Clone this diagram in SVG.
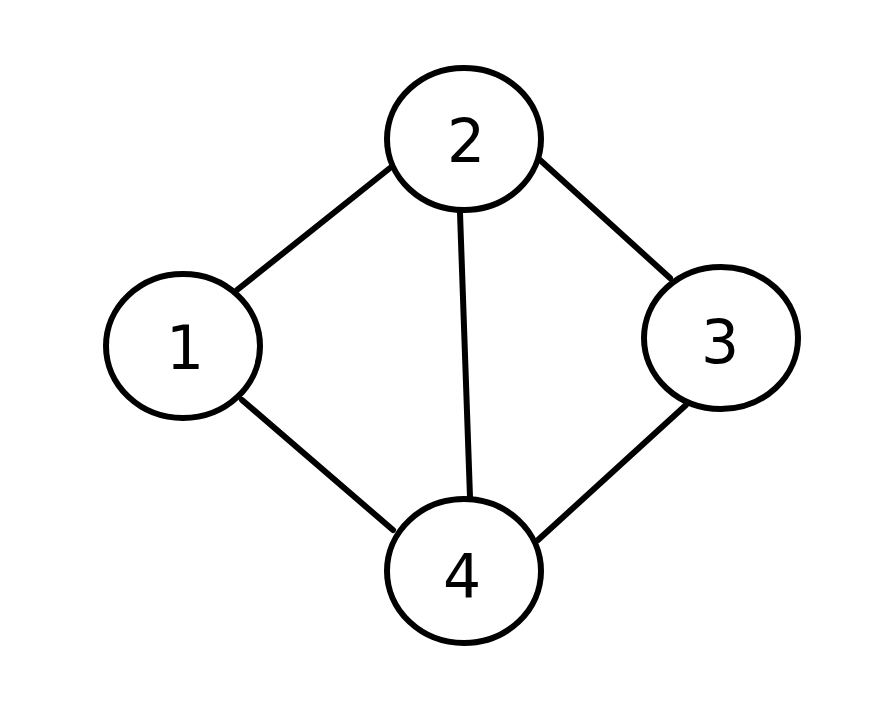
<svg xmlns="http://www.w3.org/2000/svg" width="886" height="717" viewBox="0 0 886 717">
<style>
.n{fill:#fff;stroke:#000;stroke-width:6}
.e{stroke:#000;stroke-width:6;stroke-linecap:round;fill:none}
.t{font-family:"DejaVu Sans",sans-serif;font-size:60px;fill:#000;text-anchor:middle;dominant-baseline:central}
</style>
<rect width="886" height="717" fill="#fff"/>
<g id="edges">
<line class="e" x1="237" y1="290" x2="390" y2="168"/>
<line class="e" x1="540" y1="160" x2="670" y2="278"/>
<line class="e" x1="460" y1="213" x2="470" y2="497"/>
<line class="e" x1="686" y1="405" x2="538" y2="540"/>
<line class="e" x1="242" y1="400" x2="393" y2="530"/>
</g>
<g id="node1"><ellipse class="n" cx="183" cy="346" rx="77" ry="72"/><text class="t" x="185" y="348">1</text></g>
<g id="node2"><ellipse class="n" cx="464" cy="139" rx="77" ry="71"/><text class="t" x="466" y="141">2</text></g>
<g id="node3"><ellipse class="n" cx="721" cy="338" rx="77" ry="71"/><text class="t" x="720" y="342">3</text></g>
<g id="node4"><ellipse class="n" cx="464" cy="571" rx="77" ry="72"/><text class="t" x="462" y="576">4</text></g>
</svg>
